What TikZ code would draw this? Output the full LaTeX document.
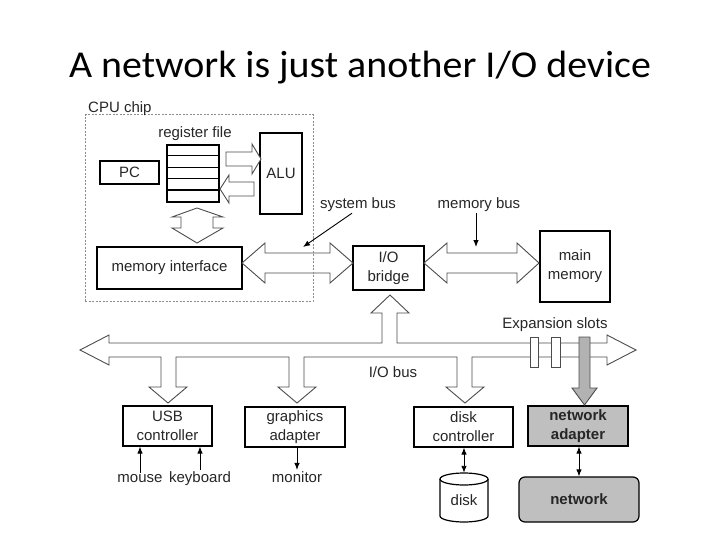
\documentclass[tikz,border=0pt]{standalone}
\usepackage{fontspec}
\setmainfont{Liberation Sans}
\newfontfamily\titlefont[FakeStretch=1.05]{Carlito}
\usetikzlibrary{arrows.meta}

\begin{document}
\begin{tikzpicture}[x=1pt,y=-1pt,font=\fontsize{15}{19}\selectfont,
	box/.style={draw,line width=1.2pt,align=center,inner sep=0pt,text=black!85},
	lbl/.style={inner sep=1pt,text=black!85},
	bus/.style={draw=black!70,fill=white,line width=0.9pt},
	arr/.style={-{Latex[length=7pt,width=5.5pt]},line width=0.9pt},
	arrr/.style={{Latex[length=7pt,width=5.5pt]}-{Latex[length=7pt,width=5.5pt]},line width=0.9pt}]
	% 画布大小,和原图一样 720x540
	\useasboundingbox (0,0) rectangle (720,540);
	
	% 标题
	\node[anchor=base,font=\titlefont\fontsize{38}{42}\selectfont] (title) at (360,78) {A network is just another I/O device};
	
	% CPU 芯片里面的部件
	\node[box,minimum width=52,minimum height=57] (reg) at (193,173.5) {};
	\foreach \i in {1,...,4}
		\draw[line width=1.2pt] ([yshift=-\i*11.4pt]reg.north west) -- ([yshift=-\i*11.4pt]reg.north east);
	\node[lbl,anchor=base] (regl) at (195,138) {register file};
	\node[box,minimum width=59,minimum height=23] (pc) at (129.5,172.5) {PC};
	\node[box,minimum width=42,minimum height=81] (alu) at (281,173.5) {ALU};
	\node[box,minimum width=145,minimum height=42] (memif) at (169.5,268) {memory interface};
	
	% 桥和主存
	\node[box,minimum width=71,minimum height=44] (bridge) at (388.5,268) {I/O\\bridge};
	\node[box,minimum width=70,minimum height=71] (mainmem) at (575,266.5) {main\\memory};
	
	% I/O 总线上的设备
	\node[box,minimum width=89,minimum height=40] (usb) at (167.5,426) {USB\\controller};
	\node[box,minimum width=100,minimum height=40] (gfx) at (295,427) {graphics\\adapter};
	\node[box,minimum width=99,minimum height=40] (diskctl) at (463.5,427) {disk\\controller};
	\node[box,fill=black!25,minimum width=100,minimum height=40,font=\fontsize{15}{19}\selectfont\bfseries] (netad) at (578,426) {network\\adapter};
	\node[box,fill=black!25,rounded corners=6pt,minimum width=120,minimum height=45,font=\fontsize{15}{19}\selectfont\bfseries] (net) at (579,499.5) {network};
	
	% 磁盘,圆柱自己画
	\draw[line width=1.2pt,fill=white] (440,479) -- (440,516) arc[start angle=180,end angle=0,x radius=24,y radius=6] -- (488,479);
	\draw[line width=1.2pt,fill=white] (464,479) ellipse[x radius=24,y radius=6];
	\node[minimum width=48,minimum height=49,inner sep=0pt,text height=19pt,text depth=4pt,text=black!85] (disk) at (464,497.5) {disk};
	
	% 标注文字
	\node[lbl] (sysbus) at (358,205) {system bus};
	\node[lbl] (membus) at (479,205) {memory bus};
	\node[lbl] (expslots) at (555,325) {Expansion slots};
	\node[lbl] (iobus) at (393,372) {I/O bus};
	\node[lbl,anchor=base] (mouse) at (140,482) {mouse};
	\node[lbl,anchor=base] (keyb) at (200,482) {keyboard};
	\node[lbl,anchor=base] (monitor) at (297,482) {monitor};
	
	% 寄存器和 ALU 之间的粗箭头
	\draw[bus] (226,152) -- (252,152) -- (252,144) -- (261,159) -- (252,174) -- (252,166) -- (226,166) -- cycle;
	\draw[bus] (254,182) -- (229,182) -- (229,175) -- (220,189) -- (229,203) -- (229,196) -- (254,196) -- cycle;
	% 寄存器和 memory interface 之间的双向箭头
	\draw[bus] (197,208) -- (223,217) -- (213,217) -- (213,228) -- (223,228) -- (197,243) -- (172,228) -- (181,228) -- (181,217) -- (172,217) -- cycle;
	
	% system bus 和 memory bus
	\draw[bus] (242,263) -- (265,243) -- (265,253) -- (330,253) -- (330,243) -- (353,263) -- (330,283) -- (330,273) -- (265,273) -- (265,283) -- cycle;
	\draw[bus] (424,263) -- (447,243) -- (447,253) -- (517,253) -- (517,243) -- (539,263) -- (517,283) -- (517,273) -- (447,273) -- (447,283) -- cycle;
	
	% I/O 总线,连同往上往下的分支
	\draw[bus] (109,343) -- (382,343) -- (382,313) -- (371,313) -- (390,295) -- (409,313) -- (397,313) -- (397,343)
		-- (607,343) -- (607,335) -- (636,350) -- (607,365) -- (607,357)
		-- (472,357) -- (472,387) -- (484,387) -- (465,403) -- (446,387) -- (457,387) -- (457,357)
		-- (304,357) -- (304,387) -- (316,387) -- (297,403) -- (278,387) -- (289,387) -- (289,357)
		-- (176,357) -- (176,387) -- (187,387) -- (168,403) -- (149,387) -- (161,387) -- (161,357)
		-- (109,357) -- (109,365) -- (80,350) -- (109,335) -- cycle;
	
	% 扩展槽,最后一个是灰色的,插着网卡
	\draw[fill=white,draw=black!70,line width=0.9pt] (530,337) rectangle (538,367);
	\draw[fill=white,draw=black!70,line width=0.9pt] (551,337) rectangle (560,367);
	\draw[fill=black!30,draw=black!70,line width=0.9pt] (579,337) -- (590,337) -- (590,388) -- (597,388) -- (584.5,405) -- (572,388) -- (579,388) -- cycle;
	
	% CPU 芯片的虚线框,画在总线上面
	\node[draw=black!45,line width=1pt,dash pattern=on 2pt off 1.5pt,minimum width=228,minimum height=186,inner sep=0pt] (cpuchip) at (199,208) {};
	\node[lbl,anchor=base west] (cpu) at (87,113) {CPU chip};
	
	% 细箭头
	\coordinate (sbtip) at (303,247);
	\coordinate (mbtip) at (476,247);
	\draw[arr] ([xshift=-6pt]sysbus.south) -- (sbtip);
	\draw[arr] (membus.south -| mbtip) -- (mbtip);
	\draw[arr] (mouse.north) -- (mouse.north |- usb.south);
	\draw[arr] (keyb.north) -- (keyb.north |- usb.south);
	\draw[arr] (monitor.north |- gfx.south) -- (monitor.north);
	\draw[arrr] (disk.north |- diskctl.south) -- (disk.north);
	\draw[arrr] (net.north |- netad.south) -- (net.north);
\end{tikzpicture}
\end{document}
